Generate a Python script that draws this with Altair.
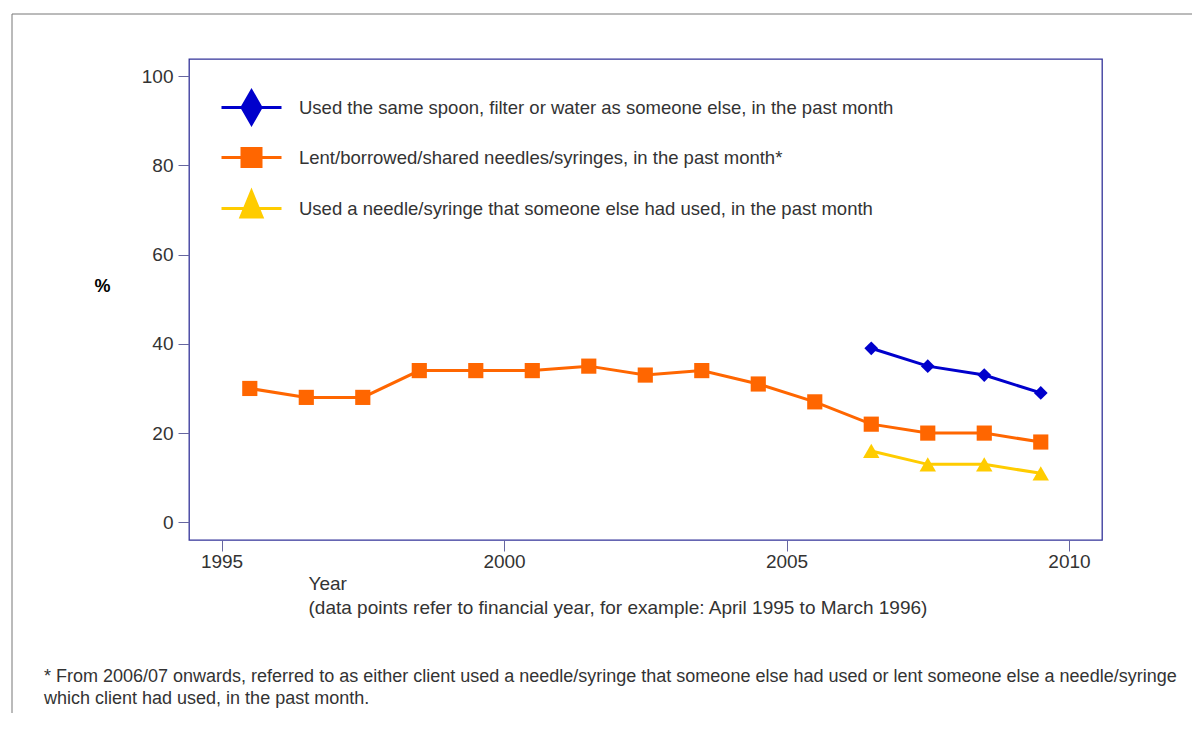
import altair as alt
import pandas as pd

# ---- data ----
years_orange = [1995.5, 1996.5, 1997.5, 1998.5, 1999.5, 2000.5, 2001.5, 2002.5,
                2003.5, 2004.5, 2005.5, 2006.5, 2007.5, 2008.5, 2009.5]
vals_orange = [30, 28, 28, 34, 34, 34, 35, 33, 34, 31, 27, 22, 20, 20, 18]
years_recent = [2006.5, 2007.5, 2008.5, 2009.5]
vals_blue = [39, 35, 33, 29]
vals_yellow = [16, 13, 13, 11]

s_blue = "Used the same spoon, filter or water as someone else, in the past month"
s_orange = "Lent/borrowed/shared needles/syringes, in the past month*"
s_yellow = "Used a needle/syringe that someone else had used, in the past month"
series_names = [s_blue, s_orange, s_yellow]
series_colors = ["#0000CC", "#FF6600", "#FFCC00"]
plot_shapes = ["diamond", "square", "triangle-up"]
legend_shapes = [
    "M-3,0L3,0M0,-1.65L0.95,0L0,1.65L-0.95,0Z",
    "M-3,0L3,0M-0.95,-0.9L0.95,-0.9L0.95,0.9L-0.95,0.9Z",
    "M-3,0L3,0M0,-1.7L1.05,0.85L-1.05,0.85Z",
]

y_ticks = [0, 20, 40, 60, 80, 100]
x_ticks = [1995, 2000, 2005, 2010]

footnote = [
    "* From 2006/07 onwards, referred to as either client used a needle/syringe that someone else had used or lent someone else a needle/syringe",
    "which client had used, in the past month.",
]
x_title = ["Year", "(data points refer to financial year, for example: April 1995 to March 1996)"]

rows = []
for y, v in zip(years_recent, vals_blue):
    rows.append({"year": y, "value": v, "series": s_blue})
for y, v in zip(years_orange, vals_orange):
    rows.append({"year": y, "value": v, "series": s_orange})
for y, v in zip(years_recent, vals_yellow):
    rows.append({"year": y, "value": v, "series": s_yellow})
df = pd.DataFrame(rows)

FONT = "Liberation Sans"

x_enc = alt.X(
    "year:Q",
    scale=alt.Scale(domain=[1994.424, 2010.584], nice=False, zero=False),
    axis=alt.Axis(
        values=x_ticks, format="d", title=x_title, grid=False, domain=False,
        tickSize=11, tickColor="#6666A0", tickWidth=1,
        labelFont=FONT, labelFontSize=19, labelColor="#333333", labelPadding=1,
        labelFlush=False, labelOverlap=False,
        titleFont=FONT, titleFontSize=19, titleColor="#333333", titleFontWeight="normal",
        titleAlign="left", titleAnchor="start", titleX=119, titleY=49,
        titleBaseline="alphabetic", titleLineHeight=24,
    ),
)
y_enc = alt.Y(
    "value:Q",
    scale=alt.Scale(domain=[-3.95, 103.81], nice=False, zero=False),
    axis=alt.Axis(
        values=y_ticks, title="%", grid=False, domain=False,
        tickSize=11, tickColor="#6666A0", tickWidth=1,
        labelFont=FONT, labelFontSize=19, labelColor="#333333", labelPadding=5,
        labelFlush=False, labelOverlap=False,
        titleFont=FONT, titleFontSize=18, titleColor="#000000", titleFontWeight="bold",
        titleAngle=0, titleAlign="center", titleBaseline="middle",
        titleX=-87, titleY=227,
    ),
)

color_scale = alt.Scale(domain=series_names, range=series_colors)

lines = alt.Chart(df).mark_line(strokeWidth=3).encode(
    x=x_enc, y=y_enc,
    color=alt.Color("series:N", scale=color_scale, legend=None),
    detail="series:N",
)

points = alt.Chart(df).mark_point(filled=True, opacity=1).encode(
    x="year:Q", y="value:Q",
    color=alt.Color("series:N", scale=color_scale, legend=None),
    shape=alt.Shape("series:N", scale=alt.Scale(domain=series_names, range=plot_shapes), legend=None),
    size=alt.Size("series:N", scale=alt.Scale(domain=series_names, range=[190, 270, 200]), legend=None),
)

legend_layer = alt.Chart(df).mark_point(filled=True, opacity=0).encode(
    x="year:Q", y="value:Q",
    fill=alt.Fill("series:N", scale=alt.Scale(domain=series_names, range=series_colors), legend=alt.Legend(title=None)),
    stroke=alt.Stroke("series:N", scale=alt.Scale(domain=series_names, range=series_colors), legend=alt.Legend(title=None)),
    shape=alt.Shape(
        "series:N",
        scale=alt.Scale(domain=series_names, range=legend_shapes),
        legend=alt.Legend(
            title=None, orient="none", legendX=51, legendY=37, padding=0,
            symbolSize=400, symbolStrokeWidth=3, symbolOpacity=1,
            labelFont=FONT, labelFontSize=18.5, labelColor="#333333", labelLimit=900,
            labelOffset=36, rowPadding=12,
        ),
    ),
)

foot = alt.Chart(alt.Data(values=[{"a": 1}])).mark_text(
    align="left", baseline="alphabetic", font=FONT, fontSize=18, color="#333333",
    lineHeight=22, text=footnote,
).encode(x=alt.value(-145), y=alt.value(623))

border_top = alt.Chart(alt.Data(values=[{"a": 1}])).mark_rule(color="#777777", strokeWidth=1).encode(
    x=alt.value(-177), x2=alt.value(1100), y=alt.value(-45)
)
border_left = alt.Chart(alt.Data(values=[{"a": 1}])).mark_rule(color="#777777", strokeWidth=1).encode(
    x=alt.value(-177), y=alt.value(-45), y2=alt.value(800)
)

chart = alt.layer(border_top, border_left, lines, points, legend_layer, foot).resolve_scale(
    shape="independent", fill="independent", stroke="independent"
).properties(
    width=913, height=481,
    background="white",
    autosize=alt.AutoSizeParams(type="none"),
    padding={"left": 181, "top": 51, "right": 90, "bottom": 173},
).configure_view(
    stroke="#333399", strokeWidth=1.3,
)

chart.save("out.html", embed_options={"renderer": "svg", "actions": False})
